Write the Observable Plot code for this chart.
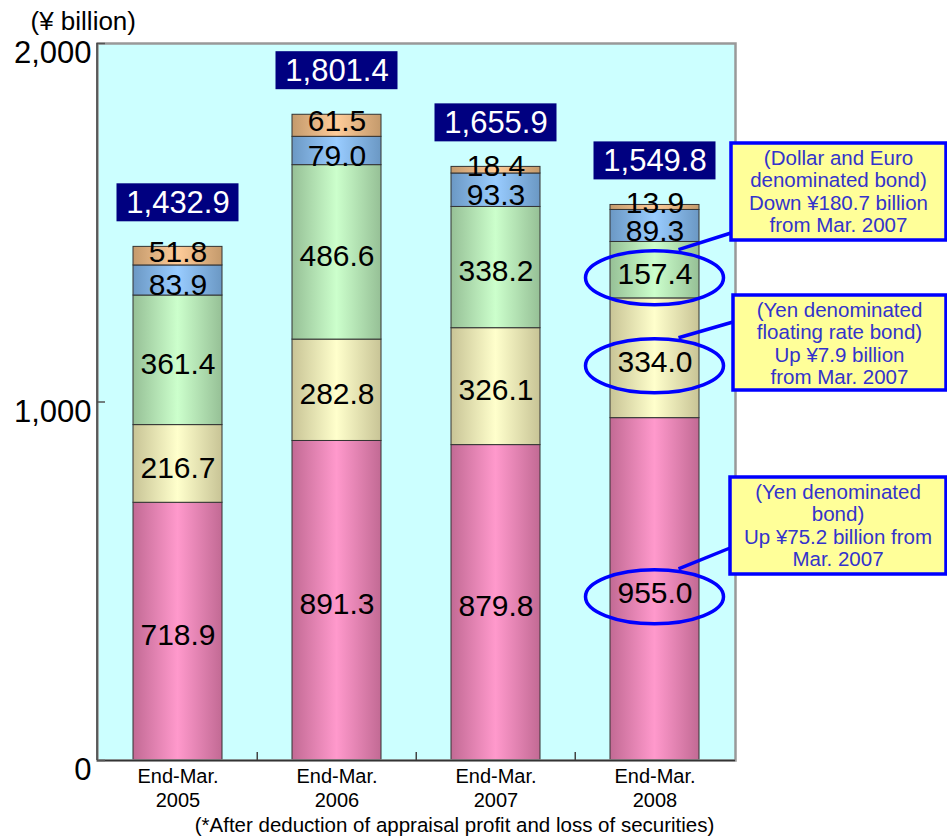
<!DOCTYPE html>
<html><head><meta charset="utf-8">
<script src="https://cdn.jsdelivr.net/npm/d3@7"></script>
<script src="https://cdn.jsdelivr.net/npm/@observablehq/plot@0.6"></script>
<style>body{margin:0;background:#fff} svg{display:block}</style>
</head><body><div id="chart"></div>
<script>
// ---- data ----
const years = ["2005", "2006", "2007", "2008"];
const seriesNames = [
  "Yen denominated bond",
  "Yen denominated floating rate bond",
  "Dollar and Euro denominated bond",
  "Other foreign currency bond",
  "Other"
];
const yenBond     = [718.9, 891.3, 879.8, 955.0];
const yenFloating = [216.7, 282.8, 326.1, 334.0];
const dollarEuro  = [361.4, 486.6, 338.2, 157.4];
const otherA      = [83.9, 79.0, 93.3, 89.3];
const otherB      = [51.8, 61.5, 18.4, 13.9];
const totals      = [1432.9, 1801.4, 1655.9, 1549.8];
const yTicks = [0, 1000, 2000];
const xTickPrefix = "End-Mar.";
const yTitle = "(¥ billion)";
const footnote = "(*After deduction of appraisal profit and loss of securities)";
const calloutSeries = [2, 1, 0];
const calloutTexts = [
  ["(Dollar and Euro", "denominated bond)", "Down ¥180.7 billion", "from Mar. 2007"],
  ["(Yen denominated", "floating rate bond)", "Up ¥7.9 billion", "from Mar. 2007"],
  ["(Yen denominated", "bond)", "Up ¥75.2 billion from", "Mar. 2007"]
];

// ---- build tables ----
const stackArrays = [yenBond, yenFloating, dollarEuro, otherA, otherB];
const rows = years.flatMap((yr, i) => stackArrays.map((arr, s) => ({year: yr, series: seriesNames[s], s, value: arr[i]})));
const totalRows = years.map((yr, i) => ({year: yr, total: totals[i]}));
const gradColors = [
  ["#c26a94", "#ff99cc"],
  ["#c8c496", "#ffffcc"],
  ["#96c096", "#ccffcc"],
  ["#6b98c4", "#99ccff"],
  ["#c49a6c", "#ffcc99"]
];
const font = "'Liberation Sans', Arial, Helvetica, sans-serif";
const segText = (cond) => d => cond(d.s) ? d.value.toFixed(1) : null;

const plot = Plot.plot({
  width: 947, height: 836,
  marginLeft: 97, marginRight: 212, marginTop: 43, marginBottom: 76,
  style: {fontFamily: font, background: "#fff", overflow: "visible"},
  x: {domain: years, paddingInner: 0.44, paddingOuter: 0.22, label: null, axis: null},
  y: {domain: [0, 2000], label: null, axis: null},
  color: {domain: seriesNames, range: seriesNames.map((_, i) => `url(#g${i})`)},
  marks: [
    Plot.frame({fill: "#ccffff", stroke: "none"}),
    Plot.barY(rows, {x: "year", y: "value", z: "series", fill: "series", stroke: "#333", strokeWidth: 1}),
    Plot.text(rows, Plot.stackY({x: "year", y: "value", z: "series", text: segText(s => s < 3), fontSize: 30, fill: "#000", dy: 4})),
    Plot.text(rows, Plot.stackY({x: "year", y: "value", z: "series", text: segText(s => s === 3), fontSize: 30, fill: "#000", dy: 5})),
    Plot.text(rows, Plot.stackY({x: "year", y: "value", z: "series", text: segText(s => s === 4), fontSize: 30, fill: "#000", dy: -4})),
    Plot.barY(totalRows, {x: "year", y1: "total", y2: "total", insetTop: -63, insetBottom: 25, insetLeft: -16.5, insetRight: -16.5, fill: "#000080"}),
    Plot.text(totalRows, {x: "year", y: "total", text: d => d3.format(",.1f")(d.total), dy: -44, fill: "#fff", fontSize: 31}),
    Plot.frame({stroke: "#999", strokeWidth: 2.5}),
    Plot.ruleY([0], {stroke: "#333", strokeWidth: 1.5}),
    Plot.ruleY(yTicks, {insetRight: 630, stroke: "#555", strokeWidth: 1.5}),
    Plot.ruleX(years.slice(1), {x: d => d, y1: 0, y2: 22, dx: -79.75, stroke: "#444", strokeWidth: 1.5}),
    // y tick labels
    Plot.text(yTicks, {y: d => d, text: d => d3.format(",")(d), frameAnchor: "left", textAnchor: "end", dx: -6, dy: 10, fontSize: 31, fill: "#000"}),
    // x tick labels
    Plot.text(years, {x: d => d, text: d => xTickPrefix + "\n" + d, frameAnchor: "bottom", lineAnchor: "top", dy: 5, fontSize: 20, lineHeight: 1.2, fill: "#000"}),
    Plot.text([yTitle], {frameAnchor: "top-left", textAnchor: "start", dx: -67, dy: -32, fontSize: 26, text: d => d, fill: "#000"}),
    Plot.text([footnote], {frameAnchor: "bottom", textAnchor: "middle", dx: 38, dy: 71, fontSize: 20.5, text: d => d, fill: "#000"})
  ]
});
document.getElementById("chart").appendChild(plot);

// ---- gradients ----
const svg = d3.select(plot);
const defs = svg.insert("defs", ":first-child");
gradColors.forEach(([edge, center], i) => {
  const g = defs.append("linearGradient").attr("id", "g" + i)
    .attr("x1", 0).attr("x2", 1).attr("y1", 0).attr("y2", 0);
  g.append("stop").attr("offset", "0%").attr("stop-color", edge);
  g.append("stop").attr("offset", "50%").attr("stop-color", center);
  g.append("stop").attr("offset", "100%").attr("stop-color", edge);
});

// left axis line
const xs = plot.scale("x"), ys = plot.scale("y");
svg.append("line").attr("x1", 97).attr("x2", 97)
  .attr("y1", ys.apply(2000)).attr("y2", ys.apply(0))
  .attr("stroke", "#444").attr("stroke-width", 1.5);

// ---- callouts ----
const last = years.length - 1;
const cx = xs.apply(years[last]) + xs.bandwidth / 2;
function midOf(s) {
  let base = 0;
  for (let k = 0; k < s; k++) base += stackArrays[k][last];
  return ys.apply(base + stackArrays[s][last] / 2);
}
const boxes = [
  {x: 731, y: 143, w: 215, h: 97, ly: 90},
  {x: 733, y: 295, w: 213, h: 95, ly: 27},
  {x: 730, y: 477, w: 216, h: 97, ly: 71}
];
const g = svg.append("g");
calloutSeries.forEach((s, i) => {
  const cy = midOf(s) + 8;
  const b = boxes[i];
  g.append("line").attr("x1", cx + 24).attr("y1", cy - 28).attr("x2", b.x).attr("y2", b.y + b.ly)
    .attr("stroke", "#0000ff").attr("stroke-width", 3.5);
  g.append("ellipse").attr("cx", cx).attr("cy", cy).attr("rx", 69).attr("ry", 27)
    .attr("fill", "none").attr("stroke", "#0000ff").attr("stroke-width", 3.5);
  g.append("rect").attr("x", b.x).attr("y", b.y).attr("width", b.w).attr("height", b.h)
    .attr("fill", "#ffff99").attr("stroke", "#0000ff").attr("stroke-width", 3.5);
  const t = g.append("text").attr("text-anchor", "middle").attr("fill", "#3333cc")
    .attr("font-family", font).attr("font-size", 20.5);
  calloutTexts[i].forEach((line, j) => {
    t.append("tspan").attr("x", b.x + b.w / 2).attr("y", b.y + 22 + j * 22.4).text(line);
  });
});
</script>
</body></html>
